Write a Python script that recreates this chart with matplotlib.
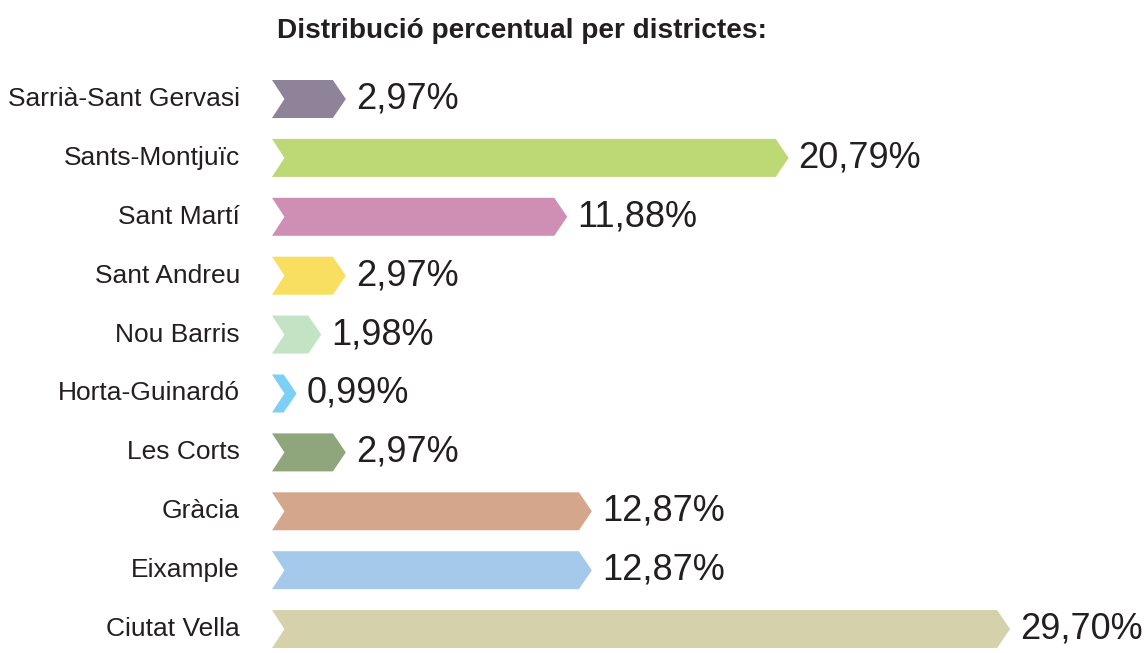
import matplotlib.pyplot as plt
from matplotlib.patches import Polygon

districts = ["Sarrià-Sant Gervasi", "Sants-Montjuïc", "Sant Martí", "Sant Andreu",
             "Nou Barris", "Horta-Guinardó", "Les Corts", "Gràcia", "Eixample",
             "Ciutat Vella"]
values = [2.97, 20.79, 11.88, 2.97, 1.98, 0.99, 2.97, 12.87, 12.87, 29.70]
colors = ["#8f8399", "#bdd975", "#cf8fb5", "#f9df5f", "#c3e3c5",
          "#7dd0f5", "#8fa57c", "#d4a68c", "#a4c9ea", "#d5d1aa"]
title = "Distribució percentual per districtes:"

text_color = "#231f20"
font = ["Liberation Sans", "DejaVu Sans"]

fig = plt.figure(figsize=(11.44, 6.53), dpi=100)
ax = fig.add_axes([0, 0, 1, 1])
ax.set_xlim(-10.946, 35.09)
ax.set_ylim(9.406, -1.681)
ax.axis("off")

h = 0.645     # bar height (rows)
tip = 0.52    # arrow point depth (%)
notch = 0.5   # tail notch depth (%)

for i, (name, v, c) in enumerate(zip(districts, values, colors)):
    pts = [(0, i - h / 2), (v - tip, i - h / 2), (v, i), (v - tip, i + h / 2),
           (0, i + h / 2), (notch, i)]
    ax.add_patch(Polygon(pts, closed=True, facecolor=c, edgecolor="none"))
    ax.text(-1.29, i, name, ha="right", va="center", fontsize=19,
            color=text_color, family=font)
    ax.text(v + 0.4, i, f"{v:.2f}%".replace(".", ","), ha="left",
            va="center", fontsize=26, color=text_color, family=font)

ax.text(0.2, -1.15, title, ha="left", va="center", fontsize=20.2,
        fontweight="bold", color=text_color, family=font)

fig.savefig("out.png", dpi=100)
